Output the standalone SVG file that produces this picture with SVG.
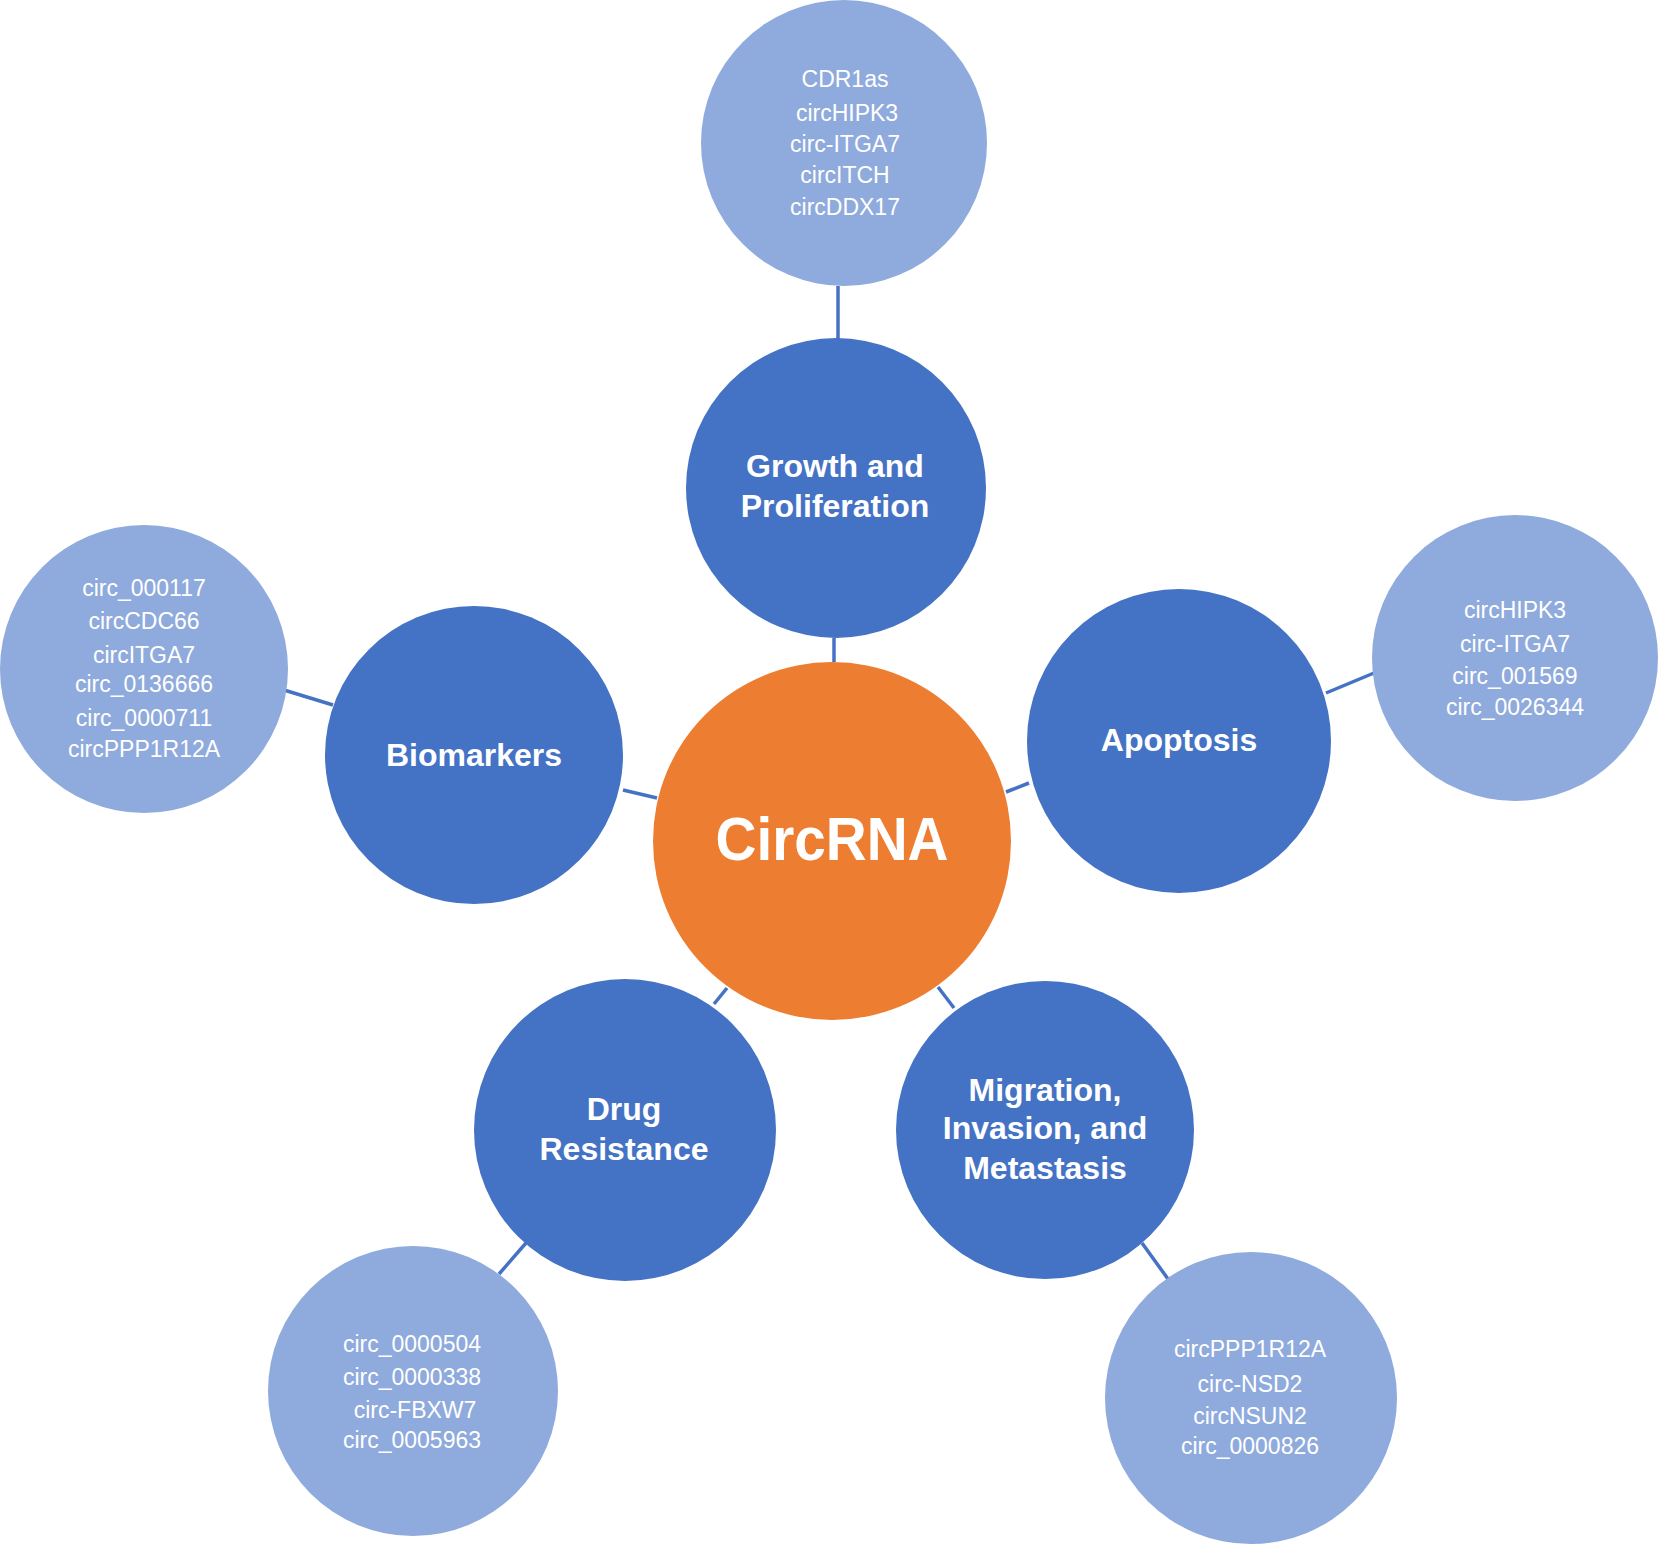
<svg xmlns="http://www.w3.org/2000/svg" width="1659" height="1545" viewBox="0 0 1659 1545">
<style>
.dark{fill:#4472C4}
.light{fill:#8FAADC}
.core{fill:#ED7D31}
.lbl{font-family:"Liberation Sans",Arial,sans-serif;font-weight:bold;font-size:32px;fill:#FFFFFF;text-anchor:middle}
.item{font-family:"Liberation Sans",Arial,sans-serif;font-size:23px;fill:#FFFFFF;text-anchor:middle}
.title{font-family:"Liberation Sans",Arial,sans-serif;font-weight:bold;font-size:62px;fill:#FFFFFF;text-anchor:middle}
.conn line{stroke:#4472C4;stroke-width:3.5;fill:none}
</style>
<rect width="1659" height="1545" fill="#FFFFFF"/>
<g id="connectors" class="conn">
<line x1="838" y1="286" x2="838" y2="339"/>
<line x1="834" y1="638" x2="834" y2="662"/>
<line x1="284" y1="690" x2="333" y2="705"/>
<line x1="623" y1="790" x2="657" y2="798"/>
<line x1="1326" y1="693" x2="1374" y2="673"/>
<line x1="1006" y1="792" x2="1029" y2="783"/>
<line x1="499" y1="1274" x2="526" y2="1243"/>
<line x1="714" y1="1004" x2="727" y2="988"/>
<line x1="1142" y1="1243" x2="1168" y2="1279"/>
<line x1="938" y1="987" x2="954" y2="1008"/>
</g>
<g id="node-growth-items">
<circle class="light" cx="844" cy="143" r="143"/>
<text class="item" x="845" y="87">CDR1as</text>
<text class="item" x="847" y="121">circHIPK3</text>
<text class="item" x="845" y="152">circ-ITGA7</text>
<text class="item" x="845" y="183">circITCH</text>
<text class="item" x="845" y="215">circDDX17</text>
</g>
<g id="node-growth">
<circle class="dark" cx="836" cy="488" r="150"/>
<text class="lbl" x="835" y="477">Growth and</text>
<text class="lbl" x="835" y="517">Proliferation</text>
</g>
<g id="node-biomarkers-items">
<circle class="light" cx="144" cy="669" r="144"/>
<text class="item" x="144" y="596">circ_000117</text>
<text class="item" x="144" y="629">circCDC66</text>
<text class="item" x="144" y="663">circITGA7</text>
<text class="item" x="144" y="692">circ_0136666</text>
<text class="item" x="144" y="726">circ_0000711</text>
<text class="item" x="144" y="757">circPPP1R12A</text>
</g>
<g id="node-biomarkers">
<circle class="dark" cx="474" cy="755" r="149"/>
<text class="lbl" x="474" y="766">Biomarkers</text>
</g>
<g id="node-apoptosis-items">
<circle class="light" cx="1515" cy="658" r="143"/>
<text class="item" x="1515" y="618">circHIPK3</text>
<text class="item" x="1515" y="652">circ-ITGA7</text>
<text class="item" x="1515" y="684">circ_001569</text>
<text class="item" x="1515" y="715">circ_0026344</text>
</g>
<g id="node-apoptosis">
<circle class="dark" cx="1179" cy="741" r="152"/>
<text class="lbl" x="1179" y="751">Apoptosis</text>
</g>
<g id="node-circrna">
<circle class="core" cx="832" cy="841" r="179"/>
<text class="title" x="832" y="860" textLength="233" lengthAdjust="spacingAndGlyphs">CircRNA</text>
</g>
<g id="node-drug-items">
<circle class="light" cx="413" cy="1391" r="145"/>
<text class="item" x="412" y="1352">circ_0000504</text>
<text class="item" x="412" y="1385">circ_0000338</text>
<text class="item" x="415" y="1418">circ-FBXW7</text>
<text class="item" x="412" y="1448">circ_0005963</text>
</g>
<g id="node-drug">
<circle class="dark" cx="625" cy="1130" r="151"/>
<text class="lbl" x="624" y="1120">Drug</text>
<text class="lbl" x="624" y="1160">Resistance</text>
</g>
<g id="node-migration-items">
<circle class="light" cx="1251" cy="1398" r="146"/>
<text class="item" x="1250" y="1357">circPPP1R12A</text>
<text class="item" x="1250" y="1392">circ-NSD2</text>
<text class="item" x="1250" y="1424">circNSUN2</text>
<text class="item" x="1250" y="1454">circ_0000826</text>
</g>
<g id="node-migration">
<circle class="dark" cx="1045" cy="1130" r="149"/>
<text class="lbl" x="1045" y="1101">Migration,</text>
<text class="lbl" x="1045" y="1139">Invasion, and</text>
<text class="lbl" x="1045" y="1179">Metastasis</text>
</g>
</svg>
